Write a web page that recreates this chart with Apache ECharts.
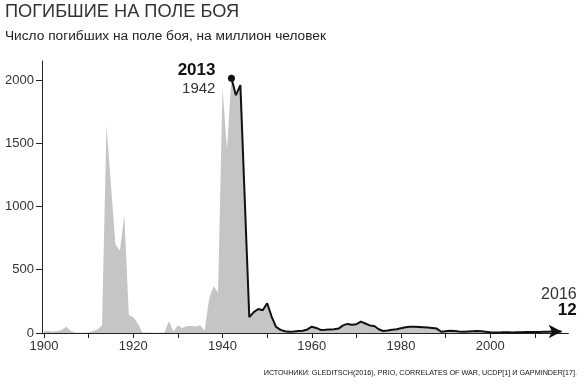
<!DOCTYPE html>
<html>
<head>
<meta charset="utf-8">
<script src="https://cdn.jsdelivr.net/npm/echarts@6/dist/echarts.min.js"></script>
<style>html,body{margin:0;padding:0;background:#fff}#c{width:584px;height:390px}</style>
</head>
<body>
<div id="c"></div>
<script>
// Gray area (historical estimates) 1900-1941
var grayYears = [1900,1901,1902,1903,1904,1905,1906,1907,1908,1909,1910,1911,1912,1913,1914,1915,1916,1917,1918,1919,1920,1921,1922,1923,1924,1925,1926,1927,1928,1929,1930,1931,1932,1933,1934,1935,1936,1937,1938,1939,1940,1941];
var grayValues = [18,15,12,15,25,50,15,3,2,2,5,15,28,60,1640,1170,700,650,930,142,125,77,4,3,3,2,2,5,95,12,62,40,55,55,52,62,18,270,370,320,1935,1450];
// Black line 1942-2016
var lineYears = [1942,1943,1944,1945,1946,1947,1948,1949,1950,1951,1952,1953,1954,1955,1956,1957,1958,1959,1960,1961,1962,1963,1964,1965,1966,1967,1968,1969,1970,1971,1972,1973,1974,1975,1976,1977,1978,1979,1980,1981,1982,1983,1984,1985,1986,1987,1988,1989,1990,1991,1992,1993,1994,1995,1996,1997,1998,1999,2000,2001,2002,2003,2004,2005,2006,2007,2008,2009,2010,2011,2012,2013,2014,2015,2016];
var lineValues = [2013,1880,1960,1040,125,165,190,180,235,130,48,25,14,10,12,15,18,28,50,40,24,25,27,29,35,60,72,66,70,90,75,60,55,30,16,20,25,30,38,45,50,50,48,46,44,40,35,10,14,18,15,12,10,12,14,15,14,10,6,3,4,5,5,4,6,6,7,8,7,8,10,10,14,12,12];
var yTicks = [0,500,1000,1500,2000];
var xTicks = [1900,1910,1920,1930,1940,1950,1960,1970,1980,1990,2000,2010];
var xLabels = [1900,1920,1940,1960,1980,2000];
var titleText = 'ПОГИБШИЕ НА ПОЛЕ БОЯ';
var subtitleText = 'Число погибших на поле боя, на миллион человек';
var sourceText = 'ИСТОЧНИКИ: GLEDITSCH(2016), PRIO, CORRELATES OF WAR, UCDP[1] И GAPMINDER[17].';

var FONT = '"Liberation Sans", Arial, sans-serif';
var grayData = [];
for (var i = 0; i < grayYears.length; i++) grayData.push([grayYears[i], grayValues[i]]);
for (var j = 0; j < lineYears.length; j++) grayData.push([lineYears[j], lineValues[j]]);

var lastIdx = lineYears.length - 1;
var lineData = lineYears.map(function (y, k) {
  var item = { value: [y, lineValues[k]] };
  if (k === 0) { item.symbol = 'circle'; item.symbolSize = 7; }
  else if (k === lastIdx) { item.symbol = 'arrow'; item.symbolSize = [10, 13]; item.symbolRotate = -90; }
  return item;
});
function plain(v) { return String(v); }

var chart = echarts.init(document.getElementById('c'), null, { renderer: 'canvas' });
chart.setOption({
  animation: false,
  backgroundColor: '#fff',
  title: [{
    text: titleText, left: 0, top: -2,
    textStyle: { fontFamily: FONT, fontSize: 18.2, fontWeight: 'normal', color: '#333' }
  }, {
    text: subtitleText, left: 0, top: 24,
    textStyle: { fontFamily: FONT, fontSize: 13.7, fontWeight: 'normal', color: '#222' }
  }],
  grid: { left: 42, right: 15.6, top: 61, bottom: 57, containLabel: false },
  xAxis: {
    type: 'value', min: 1899.55, max: 2017.5,
    axisLine: { show: true, lineStyle: { color: '#222', width: 1 } },
    axisTick: { show: true, length: 5, lineStyle: { color: '#222' }, customValues: xTicks },
    axisLabel: { customValues: xLabels, formatter: plain, margin: 7, fontFamily: FONT, fontSize: 13, color: '#333' },
    splitLine: { show: false }
  },
  yAxis: {
    type: 'value', min: 0, max: 2150,
    axisLine: { show: true, lineStyle: { color: '#222', width: 1 } },
    axisTick: { show: true, length: 6, lineStyle: { color: '#222' }, customValues: yTicks },
    axisLabel: { customValues: yTicks, formatter: plain, margin: 8, fontFamily: FONT, fontSize: 13, color: '#333' },
    splitLine: { show: false }
  },
  series: [{
    type: 'line', data: grayData, symbol: 'none', silent: true, z: 1,
    lineStyle: { width: 0 },
    areaStyle: { color: '#c4c5c7', opacity: 1 }
  }, {
    type: 'line', data: lineData, symbol: 'none', showSymbol: true, z: 3,
    lineStyle: { color: '#111', width: 2 },
    itemStyle: { color: '#111' }
  }]
});

var p0 = chart.convertToPixel({ gridIndex: 0 }, [lineYears[0], lineValues[0]]);
var p1 = chart.convertToPixel({ gridIndex: 0 }, [lineYears[lastIdx], lineValues[lastIdx]]);
chart.setOption({
  graphic: [
    { type: 'text', x: p0[0] - 16, y: p0[1] - 8, style: { text: String(lineValues[0]), fontFamily: FONT, fontSize: 17, fontWeight: 'bold', fill: '#111', align: 'right', verticalAlign: 'middle' } },
    { type: 'text', x: p0[0] - 16, y: p0[1] + 11, style: { text: String(lineYears[0]), fontFamily: FONT, fontSize: 15, fill: '#333', align: 'right', verticalAlign: 'middle' } },
    { type: 'text', x: p1[0] + 15, y: p1[1] - 37, style: { text: String(lineYears[lastIdx]), fontFamily: FONT, fontSize: 16, fill: '#333', align: 'right', verticalAlign: 'middle' } },
    { type: 'text', x: p1[0] + 15, y: p1[1] - 21, style: { text: String(lineValues[lastIdx]), fontFamily: FONT, fontSize: 17, fontWeight: 'bold', fill: '#111', align: 'right', verticalAlign: 'middle' } },
    { type: 'text', right: 7, top: 370, style: { text: sourceText, fontFamily: FONT, fontSize: 7.2, fill: '#111' } }
  ]
});
</script>
</body>
</html>
